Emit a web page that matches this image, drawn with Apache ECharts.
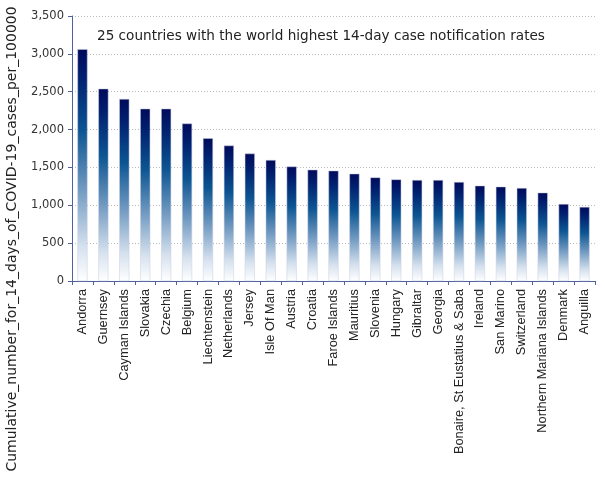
<!DOCTYPE html>
<html><head><meta charset="utf-8">
<script src="https://cdn.jsdelivr.net/npm/echarts@6/dist/echarts.min.js"></script>
<style>html,body{margin:0;padding:0;background:#fff}#c{width:605px;height:480px}</style>
</head><body><div id="c"></div>
<script>
const categories = ["Andorra","Guernsey","Cayman Islands","Slovakia","Czechia","Belgium","Liechtenstein","Netherlands","Jersey","Isle Of Man","Austria","Croatia","Faroe Islands","Mauritius","Slovenia","Hungary","Gibraltar","Georgia","Bonaire, St Eustatius & Saba","Ireland","San Marino","Switzerland","Northern Mariana Islands","Denmark","Anguilla"];
const values = [3062,2540,2404,2276,2276,2080,1886,1789,1683,1598,1512,1470,1457,1417,1368,1342,1333,1333,1307,1259,1246,1228,1167,1017,978];
const yTicks = [0,500,1000,1500,2000,2500,3000,3500];
const titleText = "25 countries with the world highest 14-day case notification rates";
const yName = "Cumulative_number_for_14_days_of_COVID-19_cases_per_100000";

const chart = echarts.init(document.getElementById('c'), null, {renderer:'canvas'});
chart.setOption({
  animation:false,
  title:{text:titleText,left:92,top:24,textStyle:{fontFamily:'DejaVu Sans',fontSize:13.6,fontWeight:'normal',color:'#222'}},
  grid:{left:72,right:10,top:16,bottom:199},
  graphic:[{type:'text',x:12,y:239,rotation:Math.PI/2,style:{text:yName,fontFamily:'DejaVu Sans',fontSize:14,fill:'#222',textAlign:'center',textVerticalAlign:'middle'}}],
  xAxis:{type:'category',data:categories,
    axisLine:{lineStyle:{color:'#5060a0',width:1}},
    axisTick:{show:true,length:4,lineStyle:{color:'#5060a0'}},
    axisLabel:{rotate:90,interval:0,fontFamily:'Liberation Sans',fontSize:12.8,color:'#222',margin:8}},
  yAxis:{type:'value',min:yTicks[0],max:yTicks[yTicks.length-1],interval:500,
    axisLine:{show:true,lineStyle:{color:'#5060a0'}},
    axisTick:{show:true,length:4,lineStyle:{color:'#5060a0'}},
    axisLabel:{fontFamily:'DejaVu Sans',fontSize:11.5,color:'#333',margin:8,formatter:v=>v.toLocaleString('en-US')},
    splitLine:{lineStyle:{color:'#bbbbbb',type:[1,2]}}},
  series:[{type:'bar',data:values,barWidth:'48%',
    itemStyle:{borderColor:'#c8cce0',borderWidth:0.5,
      color:new echarts.graphic.LinearGradient(0,0,0,1,[
        {offset:0,color:'#000a5a'},{offset:0.12,color:'#00206f'},{offset:0.35,color:'#0c5592'},
        {offset:0.6,color:'#6f98c0'},{offset:0.85,color:'#d5e1ee'},{offset:1,color:'#ffffff'}])}}]
});
</script></body></html>
